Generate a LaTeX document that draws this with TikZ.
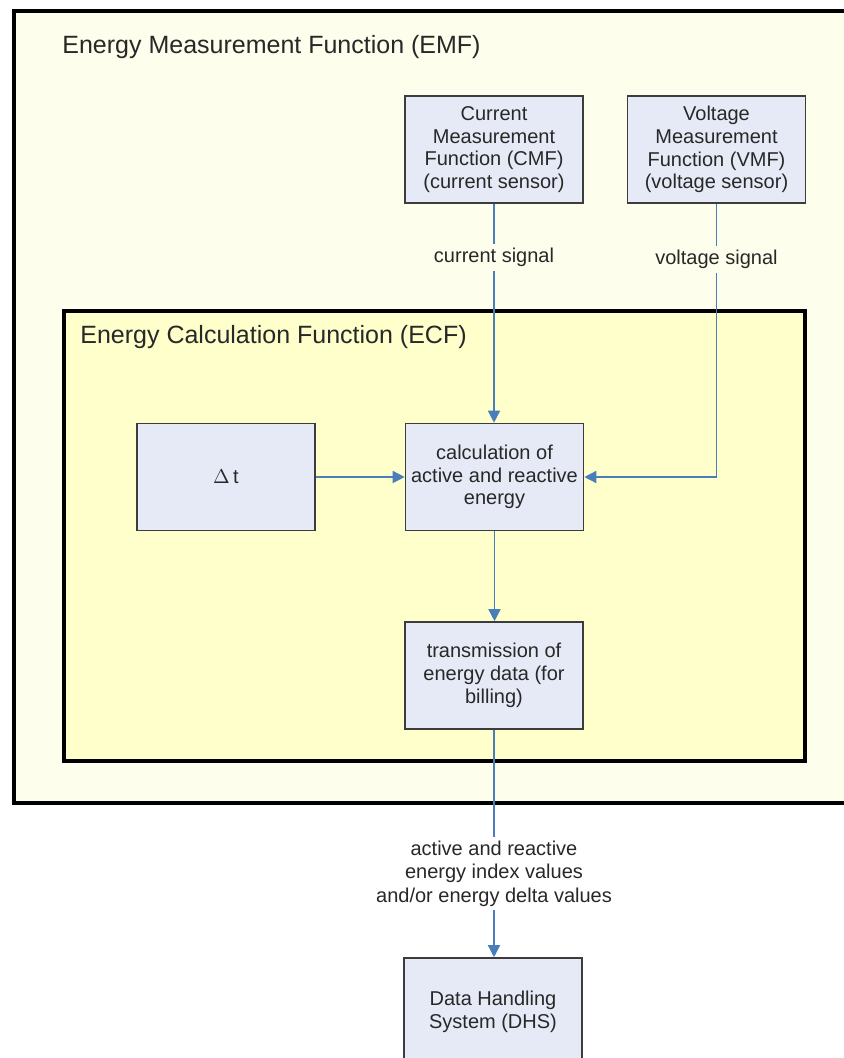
\documentclass[tikz,border=0pt]{standalone}
\usepackage{fontspec}
\setmainfont{Liberation Sans}
\usetikzlibrary{arrows.meta}
\definecolor{emffill}{RGB}{254,254,236}
\definecolor{ecffill}{RGB}{255,255,204}
\definecolor{boxfill}{RGB}{229,234,246}
\definecolor{boxline}{RGB}{60,60,60}
\definecolor{arrowblue}{RGB}{74,126,187}
\definecolor{txt}{RGB}{40,40,40}
\begin{document}
\begin{tikzpicture}[x=0.5pt,y=-0.5pt,
 fbox/.style={draw=boxline, line width=0.8pt, fill=boxfill, minimum width=89pt, minimum height=53.5pt, inner sep=0pt, align=center, text=txt, font=\fontsize{10}{11.4}\selectfont},
 conn/.style={draw=arrowblue, line width=0.75pt, -{Triangle[width=6pt,length=6pt]}},
 lbl/.style={text=txt, font=\fontsize{10}{11.8}\selectfont, align=center, inner sep=2pt},
 titletext/.style={anchor=west, inner sep=0pt, text=txt, font=\fontsize{12.5}{15}\selectfont}]
\path[use as bounding box] (0,0) rectangle (844,1058);
\begin{scope}
\clip (0,0) rectangle (844,1058);
\draw[line width=1.8pt, fill=emffill] (14,11) rectangle (880,803);
\draw[line width=2pt, fill=ecffill] (64,311) rectangle (805,761);
\end{scope}
\node[titletext] (emft) at (62,47) {Energy Measurement Function (EMF)};
\node[titletext] (ecft) at (80,337) {Energy Calculation Function (ECF)};
\node[fbox] (cmf) at (494,149.5) {Current\\Measurement\\Function (CMF)\\(current sensor)};
\node[fbox] (vmf) at (716.5,149.5) {Voltage\\Measurement\\Function (VMF)\\(voltage sensor)};
\node[fbox] (dt) at (226,477) {$\Delta$\,t};
\node[fbox] (calc) at (494.5,477) {calculation of\\active and reactive\\energy};
\node[fbox] (trans) at (494,675.5) {transmission of\\energy data (for\\billing)};
\node[fbox] (dhs) at (493,1011.5) {Data Handling\\System (DHS)};
\draw[conn] (cmf.south) -- node[lbl, fill=emffill, pos=0.245] {current signal} (cmf.south |- calc.north);
\draw[conn] (vmf.south) |- node[lbl, fill=emffill, pos=0.102] {voltage signal} (calc.east);
\draw[conn] (dt.east) -- (calc.west);
\draw[conn] (calc.south) -- (calc.south |- trans.north);
\draw[conn] (trans.south) -- node[lbl, fill=white, pos=0.632] {active and reactive\\energy index values\\and/or energy delta values} (trans.south |- dhs.north);
\end{tikzpicture}
\end{document}
